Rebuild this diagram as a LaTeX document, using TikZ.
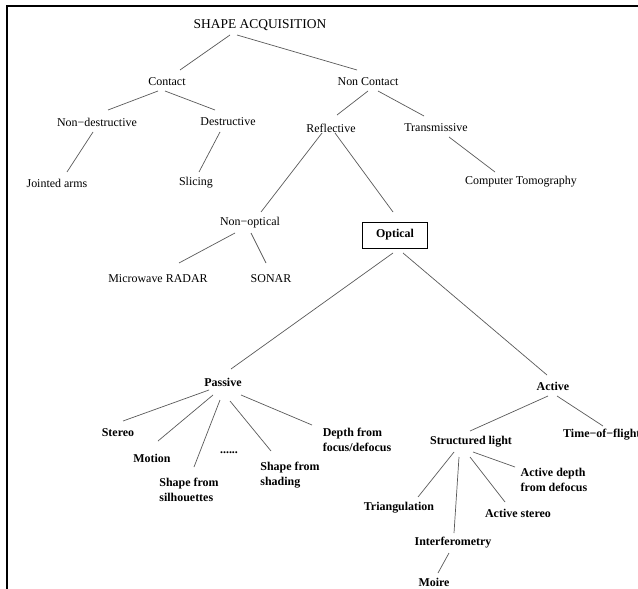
\documentclass[tikz,border=0pt]{standalone}
\usepackage{fontspec}
\setmainfont{Liberation Serif}
\begin{document}
\begin{tikzpicture}[x=1bp, y=-1bp,
    lbl/.style={inner sep=0pt, font=\fontsize{12}{15}\selectfont},
    blbl/.style={inner sep=0pt, align=left, font=\fontsize{12}{15}\selectfont\bfseries},
    link/.style={black!65, line width=0.7bp}]
            \useasboundingbox (0,0) rectangle (638,589);

            % Draw the frame
            \draw[black, line width=1.6bp] (7,589) -- (7,6) -- (638,6);

            % Draw the upper levels
            \node[lbl, font=\fontsize{13.5}{16}\selectfont] (title) at (260,25) {SHAPE ACQUISITION};
            \node[lbl] (contact) at (167,82) {Contact};
            \node[lbl] (noncontact) at (368,82) {Non Contact};
            \node[lbl] (nondestr) at (97,122) {Non−destructive};
            \node[lbl] (destr) at (228,122) {Destructive};
            \node[lbl] (reflective) at (331,128) {Reflective};
            \node[lbl] (transmissive) at (436,128) {Transmissive};
            \node[lbl] (jointed) at (57,183) {Jointed arms};
            \node[lbl] (slicing) at (196,183) {Slicing};
            \node[lbl] (ct) at (521,182) {Computer Tomography};
            \node[lbl] (nonoptical) at (250,223) {Non−optical};
            \node[lbl] (microwave) at (158,279) {Microwave RADAR};
            \node[lbl] (sonar) at (271,279) {SONAR};
            \node[blbl, draw, line width=0.8bp, minimum width=65bp, minimum height=26bp] (optical) at (395,235) {Optical};

            % Draw the optical branch
            \node[blbl] (passive) at (223,382) {Passive};
            \node[blbl] (active) at (553,386) {Active};
            \node[blbl] (stereo) at (118,433) {Stereo};
            \node[blbl] (motion) at (152,458) {Motion};
            \node[blbl] (silhouettes) at (189,490) {Shape from\\silhouettes};
            \node[blbl] (dots) at (229,453) {......};
            \node[blbl] (shading) at (290,475) {Shape from\\shading};
            \node[blbl] (depth) at (357,440) {Depth from\\focus/defocus};
            \node[blbl] (structured) at (471,442) {Structured light};
            \node[blbl, anchor=west] (timeflight) at (563,435) {Time−of−flight};
            \node[blbl] (activedepth) at (554,480) {Active depth\\from defocus};
            \node[blbl] (triangulation) at (399,508) {Triangulation};
            \node[blbl] (activestereo) at (518,513) {Active stereo};
            \node[blbl] (interferometry) at (453,543) {Interferometry};
            \node[blbl] (moire) at (434,582) {Moire};

            % Draw the links
            \draw[link] ([shift={(-30,10)}]title.center) -- ([shift={(13,-12)}]contact.center);
            \draw[link] ([shift={(-23,10)}]title.center) -- ([shift={(-11,-12)}]noncontact.center);
            \draw[link] ([shift={(-9,9)}]contact.center) -- ([shift={(11,-12)}]nondestr.center);
            \draw[link] ([shift={(-2,9)}]contact.center) -- ([shift={(-13,-12)}]destr.center);
            \draw[link] ([shift={(-4,10)}]nondestr.center) -- ([shift={(10,-11)}]jointed.center);
            \draw[link] ([shift={(-8,10)}]destr.center) -- ([shift={(3,-11)}]slicing.center);
            \draw[link] ([shift={(0,9)}]noncontact.center) -- ([shift={(6,-13)}]reflective.center);
            \draw[link] ([shift={(10,9)}]noncontact.center) -- ([shift={(-12,-12)}]transmissive.center);
            \draw[link] ([shift={(13,9)}]transmissive.center) -- ([shift={(-26,-10)}]ct.center);
            \draw[link] ([shift={(-9,5)}]reflective.center) -- ([shift={(11,-11)}]nonoptical.center);
            \draw[link] ([shift={(4,5)}]reflective.center) -- ([shift={(-2,-23)}]optical.center);
            \draw[link] ([shift={(-15,10)}]nonoptical.center) -- ([shift={(21,-16)}]microwave.center);
            \draw[link] ([shift={(1,10)}]nonoptical.center) -- ([shift={(-5,-16)}]sonar.center);
            \draw[link] ([shift={(-2,18)}]optical.center) -- ([shift={(8,-13)}]passive.center);
            \draw[link] ([shift={(8,18)}]optical.center) -- ([shift={(-6,-11)}]active.center);
            \draw[link] ([shift={(-14,8)}]passive.center) -- ([shift={(5,-12)}]stereo.center);
            \draw[link] ([shift={(-10,13)}]passive.center) -- ([shift={(6,-17)}]motion.center);
            \draw[link] ([shift={(-3,18)}]passive.center) -- ([shift={(5,-23)}]silhouettes.center);
            \draw[link] ([shift={(7,19)}]passive.center) -- ([shift={(-19,-24)}]shading.center);
            \draw[link] ([shift={(18,13)}]passive.center) -- ([shift={(-45,-15)}]depth.center);
            \draw[link] ([shift={(-5,10)}]active.center) -- ([shift={(-1,-11)}]structured.center);
            \draw[link] ([shift={(4,10)}]active.center) -- ([shift={(40,-9)}]timeflight.west);
            \draw[link] ([shift={(-17,10)}]structured.center) -- ([shift={(19,-11)}]triangulation.center);
            \draw[link] ([shift={(-12,15)}]structured.center) -- ([shift={(1,-10)}]interferometry.center);
            \draw[link] ([shift={(-1,15)}]structured.center) -- ([shift={(-13,-11)}]activestereo.center);
            \draw[link] ([shift={(2,10)}]structured.center) -- ([shift={(-39,-13)}]activedepth.center);
            \draw[link] ([shift={(-4,10)}]interferometry.center) -- ([shift={(4,-9)}]moire.center);

        \end{tikzpicture}
\end{document}
